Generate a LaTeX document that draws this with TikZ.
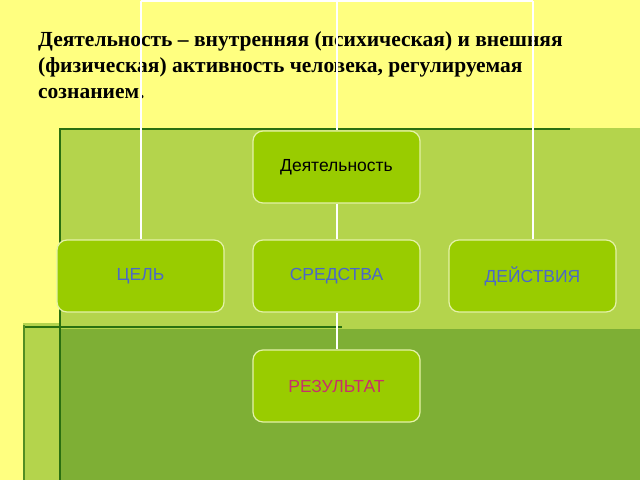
\documentclass[tikz,border=0pt]{standalone}
\usepackage{fontspec}
\setmainfont{Liberation Sans}
\newfontfamily\titlefont{Liberation Serif}
\definecolor{bgyellow}{HTML}{FFFF80}
\definecolor{panellight}{HTML}{B4D44C}
\definecolor{paneldark}{HTML}{7EAF35}
\definecolor{edgegreen}{HTML}{2A7010}
\definecolor{boxfill}{HTML}{99CC00}
\definecolor{boxedge}{HTML}{E4F2A8}
\definecolor{txtblue}{HTML}{4A68C8}
\definecolor{txtred}{HTML}{C8306A}
\tikzset{
  chartbox/.style={draw=boxedge, line width=1.2pt, fill=boxfill, rounded corners=10pt,
    minimum width=167pt, minimum height=72pt, inner sep=0pt, font=\fontsize{17.5}{20}\selectfont},
  link/.style={draw=white, line width=2pt},
  edge/.style={draw=edgegreen, line width=2.5pt}
}
\begin{document}
\begin{tikzpicture}[x=1pt,y=-1pt]
\useasboundingbox (0,0) rectangle (640,480);
\fill[bgyellow] (0,0) rectangle (640,480);
% upper panel
\fill[panellight] (60,128) rectangle (640,480);
% lower panel
\fill[panellight] (23,323) rectangle (640,480);
\fill[paneldark] (60,329) rectangle (640,480);
\draw[edge] (60,129) -- (570,129);
\draw[edge] (60,128) -- (60,480);
\draw[edge] (23,327) -- (342,327);
\draw[draw=edgegreen!70!panellight, line width=2pt] (24,325) -- (24,480);
% title
\node[anchor=north west, align=left, font=\titlefont\bfseries\fontsize{21.5}{26}\selectfont, inner sep=0pt] (title) at (38,31)
{Деятельность – внутренняя (психическая) и внешняя\\(физическая) активность человека, регулируемая\\сознанием.};
% boxes
\node[chartbox, text=black] (act) at (336.5,167) {Деятельность};
\node[chartbox, text=txtblue] (goal) at (140.5,276) {ЦЕЛЬ};
\node[chartbox, text=txtblue] (means) at (336.5,276) {СРЕДСТВА};
\node[chartbox, text=txtblue] (acts) at (532.5,276) {ДЕЙСТВИЯ};
\node[chartbox, text=txtred] (res) at (336.5,386) {РЕЗУЛЬТАТ};
% top connectors
\coordinate (tl) at (140.5,1);
\coordinate (tm) at (336.5,1);
\coordinate (tr) at (532.5,1);
\draw[link] (tl) -- (tr);
\draw[link] (tl) -- (goal.north);
\draw[link] (tm) -- (act.north);
\draw[link] (tr) -- (acts.north);
\draw[link] (act.south) -- (means.north);
\draw[link] (means.south) -- (res.north);
\end{tikzpicture}
\end{document}
